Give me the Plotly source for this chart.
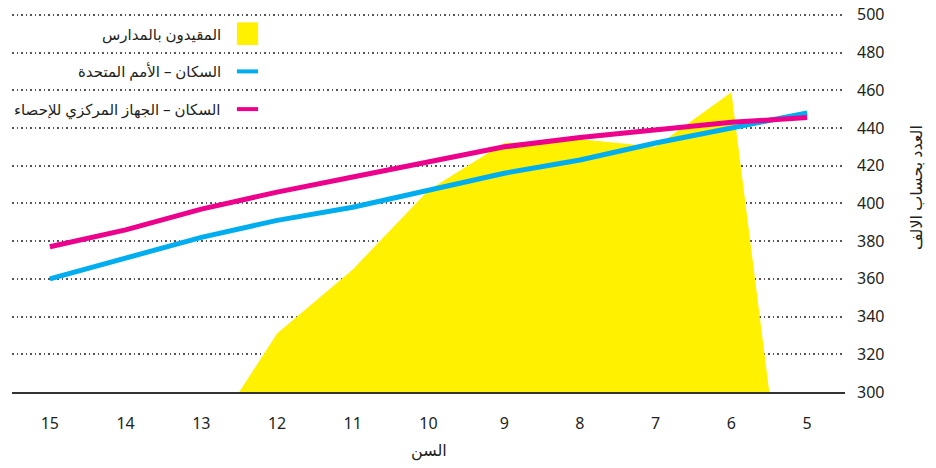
import plotly.graph_objects as go

# ages on the x axis (reversed: 15 on the left, 5 on the right)
ages = [15, 14, 13, 12, 11, 10, 9, 8, 7, 6, 5]

# population, thousands
pop_un = [360, 371, 382, 391, 398, 407, 416, 423, 432, 440, 448]
pop_capmas = [377, 386, 397, 406, 414, 422, 430, 435, 439, 443, 445.5]

# enrolled in schools (clipped below 300 by the axis range)
school_ages = [13, 12, 11, 10, 9, 8, 7, 6, 5]
enrolled = [269, 331, 365, 407, 432, 434, 430, 459, 141]

legend_labels = [
    "المقيدون بالمدارس",
    "السكان – الأمم المتحدة",
    "السكان – الجهاز المركزي للإحصاء",
]

COLORS = {
    "yellow": "#FFF100",
    "blue": "#00AEEF",
    "magenta": "#EC008C",
    "text": "#231F20",
    "grid": "#555555",
}
FONT = "Noto Sans, DejaVu Sans, sans-serif"

fig = go.Figure()

fig.add_trace(
    go.Scatter(
        x=school_ages,
        y=enrolled,
        mode="lines",
        fill="tozeroy",
        fillcolor=COLORS["yellow"],
        line=dict(width=0, color=COLORS["yellow"]),
        name=legend_labels[0],
    )
)
fig.add_trace(
    go.Scatter(
        x=ages,
        y=pop_un,
        mode="lines",
        line=dict(color=COLORS["blue"], width=5),
        name=legend_labels[1],
    )
)
fig.add_trace(
    go.Scatter(
        x=ages,
        y=pop_capmas,
        mode="lines",
        line=dict(color=COLORS["magenta"], width=5),
        name=legend_labels[2],
    )
)

# hand-made legend (symbol on the right of right-aligned Arabic text)
rows = [490, 470, 450]
for label, row, key in zip(legend_labels, rows, ["yellow", "blue", "magenta"]):
    fig.add_annotation(
        x=12.71, y=row, xref="x", yref="y",
        text=label, showarrow=False,
        xanchor="right", yanchor="middle",
        font=dict(size=15, color=COLORS["text"], family=FONT),
    )
    if key == "yellow":
        fig.add_shape(
            type="rect", xref="x", yref="y",
            x0=12.53, x1=12.25, y0=484, y1=496,
            fillcolor=COLORS[key], line=dict(width=0),
        )
    else:
        fig.add_shape(
            type="line", xref="x", yref="y",
            x0=12.53, x1=12.25, y0=row, y1=row,
            line=dict(color=COLORS[key], width=4),
        )

fig.add_annotation(
    x=1.085, y=0.539, xref="paper", yref="paper",
    text="العدد بحساب الالف", showarrow=False, textangle=-90,
    xanchor="center", yanchor="middle",
    font=dict(size=16, color=COLORS["text"], family=FONT),
)
fig.add_annotation(
    x=0.5, y=-0.153, xref="paper", yref="paper",
    text="السن", showarrow=False,
    xanchor="center", yanchor="middle",
    font=dict(size=16, color=COLORS["text"], family=FONT),
)

fig.update_layout(
    width=936,
    height=468,
    paper_bgcolor="white",
    plot_bgcolor="white",
    showlegend=False,
    margin=dict(l=12, r=91, t=12, b=76),
    font=dict(family=FONT, size=16, color=COLORS["text"]),
    xaxis=dict(
        range=[15.5, 4.5],
        tickvals=ages,
        showgrid=False,
        zeroline=False,
        showline=True,
        linecolor="#333333",
        linewidth=2,
        ticks="",
        ticklabelstandoff=16,
        automargin=False,
        tickfont=dict(size=16, color=COLORS["text"]),
    ),
    yaxis=dict(
        range=[300, 501.5],
        side="right",
        tickvals=list(range(300, 501, 20)),
        showgrid=True,
        gridcolor=COLORS["grid"],
        griddash="1.5px,3px",
        gridwidth=1.5,
        zeroline=False,
        ticks="",
        ticklabelstandoff=11,
        ticklabeloverflow="allow",
        automargin=False,
        tickfont=dict(size=16, color=COLORS["text"]),
    ),
)

# drop the default page margin so the 936x468 figure fills the window
fig.write_html(
    "out.html",
    config={"displayModeBar": False},
    post_script="document.body.style.margin = '0';",
)
